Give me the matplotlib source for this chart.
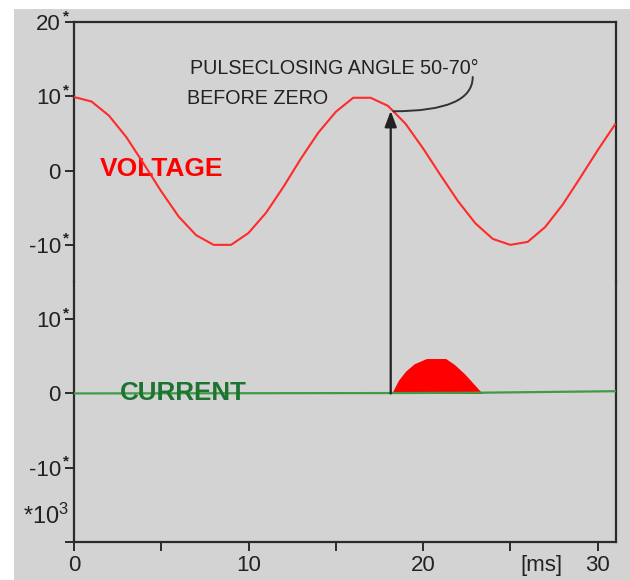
import matplotlib
matplotlib.use('Agg')
import numpy as np
import matplotlib.pyplot as plt
from matplotlib.patches import Rectangle, ConnectionPatch
from matplotlib import transforms

plt.rcParams['font.family'] = ['Liberation Sans', 'DejaVu Sans']
plt.rcParams['mathtext.fontset'] = 'custom'
plt.rcParams['mathtext.rm'] = 'Liberation Sans'
plt.rcParams['mathtext.it'] = 'Liberation Sans'

# ---------------- data ----------------
time_ms = list(range(0, 32))
voltage = [9.9, 9.3, 7.4, 4.5, 0.9, -2.8, -6.2, -8.7, -10.0, -10.0, -8.4, -5.7, -2.2,
           1.6, 5.1, 7.9, 9.8, 9.8, 8.7, 6.3, 3.0, -0.6, -4.1, -7.1, -9.2, -10.0,
           -9.6, -7.6, -4.6, -1.0, 2.7, 6.2]
current_t = [0, 18.2, 23.4, 31]
current = [0, 0.05, 0.1, 0.3]
pulse_t = [18.2, 18.6, 19.0, 19.5, 20.2, 21.3, 21.8, 22.4, 22.9, 23.4]
pulse_i = [0, 1.8, 3.0, 4.0, 4.7, 4.7, 3.9, 2.6, 1.3, 0]
x_ticks = [0, 10, 20, 30]
x_minor = [5, 15, 25]
v_ticks = [20, 10, 0, -10]
v_labels = ['20', '10', '0', '-10']
i_ticks = [10, 0, -10, -20]
i_labels = ['10', '0', '-10', '']
closing_t = 18.15

GREY = '#d3d3d3'
DARK = '#2b2b2b'
W, H = 630, 580

fig = plt.figure(figsize=(6.3, 5.8), dpi=100)
fig.patch.set_facecolor('white')
fig.add_artist(Rectangle((14 / W, 0), 1 - 14 / W, 1 - 9 / H, transform=fig.transFigure,
                         facecolor=GREY, edgecolor='none', zorder=-10))

L = 74 / W
R = 616 / W
ax_v = fig.add_axes([L, 1 - 282 / H, R - L, (282 - 22) / H])
ax_i = fig.add_axes([L, 1 - 542 / H, R - L, (542 - 282) / H])

for ax in (ax_v, ax_i):
    ax.set_facecolor(GREY)
    ax.set_xlim(0, 31.06)
    for s in ax.spines.values():
        s.set_color(DARK)
        s.set_linewidth(1.6)
    ax.tick_params(axis='both', which='both', direction='out', length=6.5, width=1.4,
                   color=DARK, labelsize=16, labelcolor='#222', pad=3)

ax_v.set_ylim(-15, 20)
ax_i.set_ylim(-20, 15)
ax_v.spines['bottom'].set_visible(False)
ax_i.spines['top'].set_visible(False)
ax_v.tick_params(axis='x', which='both', bottom=False, labelbottom=False)
ax_v.set_yticks(v_ticks)
ax_v.set_yticklabels(v_labels)
ax_i.set_yticks(i_ticks)
ax_i.set_yticklabels(i_labels)
ax_i.set_xticks(x_ticks)
ax_i.set_xticklabels([str(v) for v in x_ticks])
ax_i.set_xticks(x_minor, minor=True)
ax_i.tick_params(axis='x', which='minor', length=6.5)

# asterisks on y tick labels
for ax, vals in ((ax_v, [20, 10, -10]), (ax_i, [10, -10])):
    tr = transforms.blended_transform_factory(ax.transAxes, ax.transData)
    tr = transforms.offset_copy(tr, fig=fig, x=-8, y=6, units='dots')
    for v in vals:
        ax.text(0, v, '*', transform=tr, ha='center', va='center', fontsize=11,
                fontweight='bold', color='#222', clip_on=False)

tr = transforms.blended_transform_factory(ax_i.transAxes, ax_i.transData)
tr = transforms.offset_copy(tr, fig=fig, x=-5, y=0, units='dots')
ax_i.text(0, -16.6, r'*10$^3$', transform=tr, ha='right', va='center', fontsize=17,
          color='#222', clip_on=False)

trx = transforms.blended_transform_factory(ax_i.transData, ax_i.transAxes)
trx = transforms.offset_copy(trx, fig=fig, x=0, y=-13, units='dots')
ax_i.text(26.8, 0, '[ms]', transform=trx, ha='center', va='top', fontsize=16,
          color='#222', clip_on=False)

# voltage
ax_v.plot(time_ms, voltage, color='#ff2a2a', lw=1.5, zorder=3,
          solid_joinstyle='round')
ax_v.text(1.49, -0.67, 'VOLTAGE', color='#ff0000', fontsize=19, fontweight='bold',
          ha='left', va='baseline', zorder=2)

# current
ax_i.fill_between(pulse_t, 0, pulse_i, color='#ff0000', lw=0, zorder=2)
ax_i.plot(current_t, current, color='#3f9b45', lw=1.6, zorder=3)
ax_i.text(2.64, -0.94, 'CURRENT', color='#1c7430', fontsize=18.7, fontweight='bold',
          ha='left', va='baseline', zorder=4)

# closing arrow
tip_v = float(np.interp(closing_t, time_ms, voltage))
con = ConnectionPatch(xyA=(closing_t, 0), coordsA=ax_i.transData,
                      xyB=(closing_t, tip_v - 0.3), coordsB=ax_v.transData,
                      arrowstyle='-|>,head_length=0.8,head_width=0.3', mutation_scale=12,
                      color='#222', lw=1.6, shrinkA=0, shrinkB=0, zorder=5)
fig.add_artist(con)

lead_t = 18.3
lead_v = float(np.interp(lead_t, time_ms, voltage))
ax_v.annotate('', xy=(lead_t, lead_v), xytext=(22.85, 12.6),
              arrowprops=dict(arrowstyle='-', color='#333', lw=1.4,
                              connectionstyle='angle3,angleA=90,angleB=0',
                              shrinkA=0, shrinkB=0))
ax_v.text(6.65, 13.05, 'PULSECLOSING ANGLE 50-70°', fontsize=14.2, color='#222',
          ha='left', va='baseline')
ax_v.text(6.48, 9.0, 'BEFORE ZERO', fontsize=14.2, color='#222',
          ha='left', va='baseline')

fig.savefig('out.png', dpi=100, facecolor=fig.get_facecolor())
